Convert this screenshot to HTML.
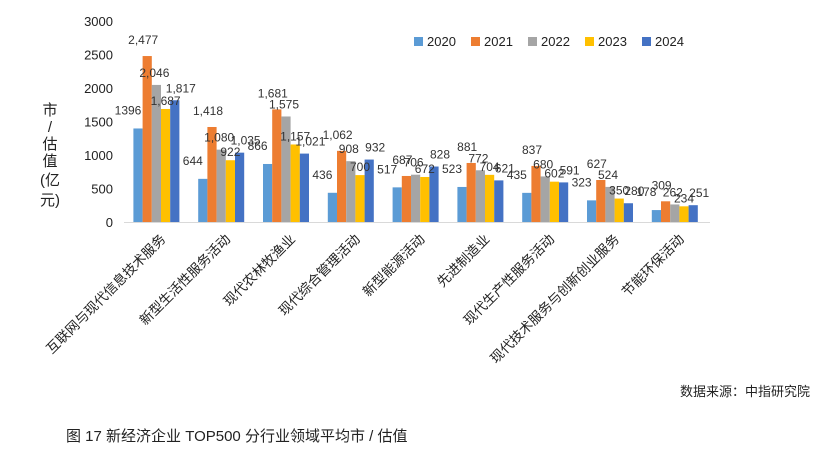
<!DOCTYPE html>
<html><head><meta charset="utf-8"><style>
body{margin:0;background:#fff;width:830px;height:458px;overflow:hidden;font-family:"Liberation Sans","Noto Sans CJK SC",sans-serif}
</style></head><body>
<svg width="830" height="458" xmlns="http://www.w3.org/2000/svg" font-family="Liberation Sans, Noto Sans CJK SC, sans-serif">
<g id="yaxis"></g>
<g id="bars"></g>
<g id="labels"></g>
<g id="cats"></g>
<g id="legend"></g>
<text font-size="15" fill="#222" text-anchor="middle">
<tspan x="50" y="115">市</tspan><tspan x="50" y="132">/</tspan><tspan x="50" y="149">估</tspan><tspan x="50" y="166">值</tspan><tspan x="50" y="185">(亿</tspan><tspan x="50" y="205">元)</tspan></text>
<text x="810" y="396" font-size="13" fill="#222" text-anchor="end">数据来源：中指研究院</text>
<text x="66" y="441" font-size="15" fill="#222">图 17   新经济企业 TOP500 分行业领域平均市 / 估值</text>
</svg>
<script>
const categories=["互联网与现代信息技术服务","新型生活性服务活动","现代农林牧渔业","现代综合管理活动","新型能源活动","先进制造业","现代生产性服务活动","现代技术服务与创新创业服务","节能环保活动"];
const seriesNames=["2020","2021","2022","2023","2024"];
const s2020=[1396,644,866,436,517,523,435,323,178];
const s2021=[2477,1418,1681,1062,687,881,837,627,309];
const s2022=[2046,1080,1575,908,706,772,680,524,262];
const s2023=[1687,922,1157,700,672,704,602,350,234];
const s2024=[1817,1035,1021,932,828,621,591,280,251];
const yTicks=[0,500,1000,1500,2000,2500,3000];
const series=[s2020,s2021,s2022,s2023,s2024];
const colors=["#5b9bd5","#ed7d31","#a5a5a5","#ffc000","#4472c4"];
const NS="http://www.w3.org/2000/svg";
const y0=222,yTop=21,yMax=3000,x0=124,step=64.8,bw=9.2;
const y=v=>y0-(v/yMax)*(y0-yTop);
const cx=i=>x0+step*(i+0.5);
function mk(t,a,p){const e=document.createElementNS(NS,t);for(const k in a)e.setAttribute(k,a[k]);p.appendChild(e);return e;}
const fmt=(v,k)=>k===0?String(v):v.toLocaleString("en-US");
const ya=document.getElementById("yaxis");
yTicks.forEach(t=>{const e=mk("text",{x:113,y:y(t)+5,"font-size":13,fill:"#222","text-anchor":"end"},ya);e.textContent=t;

});
const ax=mk("line",{x1:124,x2:710,y1:y0+0.5,y2:y0+0.5,stroke:"#d9d9d9"},ya);


const bg=document.getElementById("bars"),lg=document.getElementById("labels");
categories.forEach((c,i)=>{
 series.forEach((s,k)=>{
  const x=cx(i)-2.5*bw+k*bw;
  const r=mk("rect",{x:x,y:y(s[i]),width:bw,height:y0-y(s[i]),fill:colors[k]},bg);
  
  
  const dx=[-10,-4,-2,0,6][k],dy=[14,12,8,4,8][k];
  const t=mk("text",{x:x+bw/2+dx,y:y(s[i])-dy,"font-size":12,fill:"#333","text-anchor":"middle"},lg);
  t.textContent=fmt(s[i],k);
  
  
 });
 const ct=mk("text",{x:0,y:0,"font-size":13.5,fill:"#222","text-anchor":"end",transform:`translate(${cx(i)+10},${240}) rotate(-45)`},document.getElementById("cats"));
 ct.textContent=c;
 
 
});
const lgd=document.getElementById("legend");
seriesNames.forEach((n,k)=>{const lx=414+k*57;
 const r=mk("rect",{x:lx,y:37,width:9,height:9,fill:colors[k]},lgd);
 
 
 const t=mk("text",{x:lx+13,y:46,"font-size":13,fill:"#222"},lgd);t.textContent=n;
 
 });
</script>
</body></html>
